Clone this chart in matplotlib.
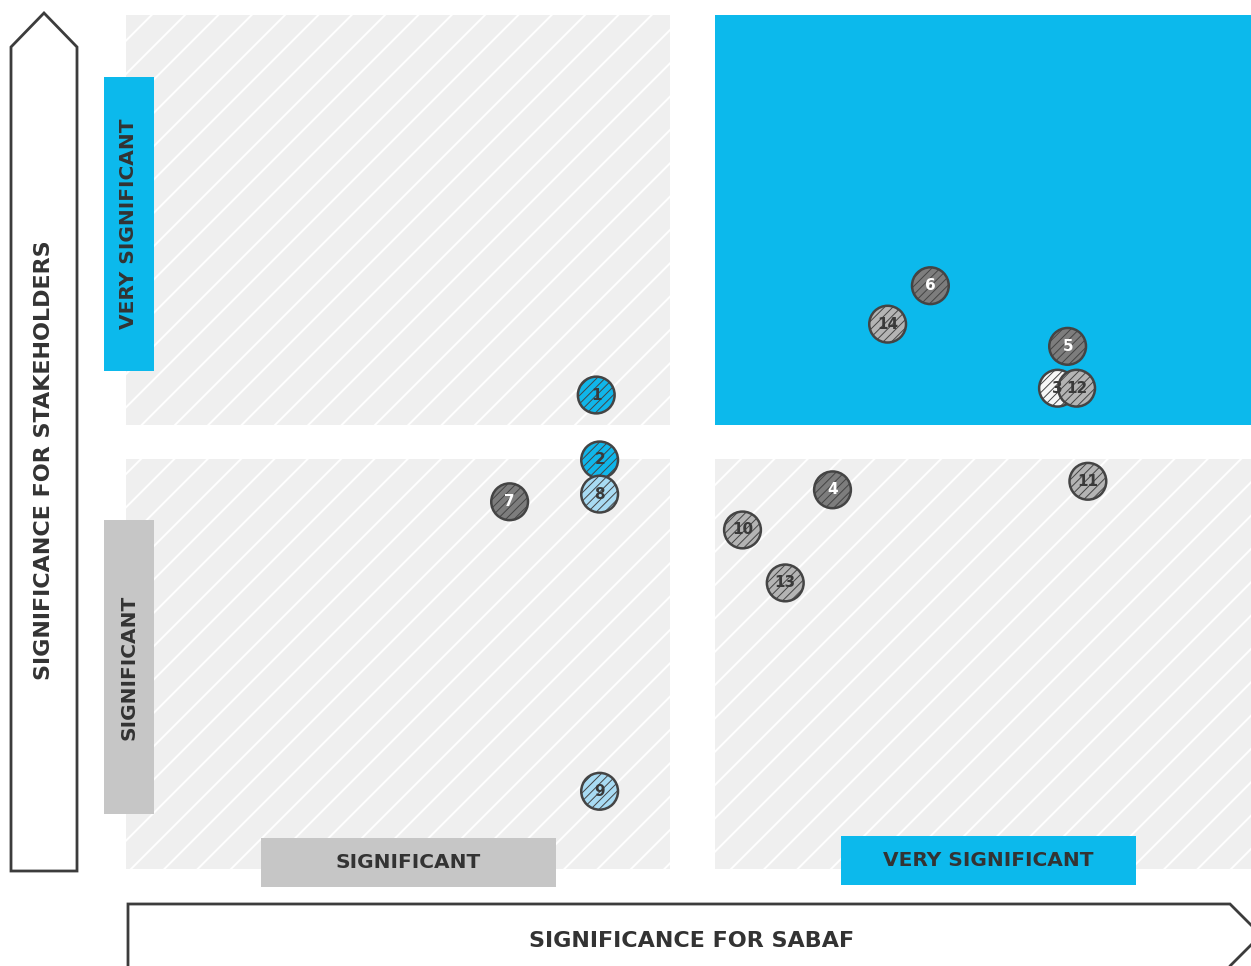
import matplotlib
matplotlib.use("Agg")
import matplotlib.pyplot as plt
from matplotlib.patches import Rectangle, Polygon

plt.rcParams['font.family'] = ['DejaVu Sans']
plt.rcParams['hatch.linewidth'] = 1.4

# Material topics: significance for Sabaf (x) and for stakeholders (y), 0-100 scale
topics = ['1', '2', '3', '4', '5', '6', '7', '8', '9', '10', '11', '12', '13', '14']
sabaf = [41.8, 42.1, 82.8, 62.8, 83.7, 71.5, 34.1, 42.1, 42.1, 54.8, 85.5, 84.5, 58.6, 67.7]
stakeholders = [55.5, 47.9, 56.3, 44.4, 61.2, 68.3, 43.0, 43.9, 9.1, 39.7, 45.4, 56.3, 33.5, 63.8]
groups = ['blue', 'blue', 'white', 'dark', 'dark', 'dark', 'dark', 'light', 'light',
          'mid', 'mid', 'mid', 'mid', 'mid']

fill = {'blue': '#10b6ea', 'light': '#a8dbf3', 'dark': '#7d7d7d', 'mid': '#b4b4b4', 'white': '#f7f7f7'}
label_col = {'blue': '#3a3a3a', 'light': '#3a3a3a', 'dark': 'white', 'mid': '#3a3a3a', 'white': '#3a3a3a'}

BLUE = '#0cb9ec'
GREY_BOX = '#c6c6c6'
PANEL = '#efefef'
INK = '#333333'

W, H = 1251, 966
fig = plt.figure(figsize=(W / 100, H / 100), dpi=100)

# Layout layer in pixel units
lay = fig.add_axes([0, 0, 1, 1])
lay.set_xlim(0, W)
lay.set_ylim(H, 0)
lay.axis('off')

# Quadrant panels
for (x0, y0, x1, y1) in [(126, 15, 670, 425), (126, 459, 670, 869), (715, 459, 1251, 869)]:
    lay.add_patch(Rectangle((x0, y0), x1 - x0, y1 - y0, facecolor=PANEL,
                            edgecolor='white', linewidth=0, hatch='/'))
lay.add_patch(Rectangle((715, 15), 1251 - 715, 425 - 15, facecolor=BLUE, linewidth=0))

# Level tags
lay.add_patch(Rectangle((104, 77), 50, 294, facecolor=BLUE, linewidth=0))
lay.text(129, 224, 'VERY SIGNIFICANT', rotation=90, ha='center', va='center',
         fontsize=14.5, fontweight='bold', color=INK)
lay.add_patch(Rectangle((104, 520), 50, 294, facecolor=GREY_BOX, linewidth=0))
lay.text(129, 667, 'SIGNIFICANT', rotation=90, ha='center', va='center',
         fontsize=14.5, fontweight='bold', color=INK)
lay.add_patch(Rectangle((261, 838), 295, 49, facecolor=GREY_BOX, linewidth=0))
lay.text(408.5, 863, 'SIGNIFICANT', ha='center', va='center',
         fontsize=14.5, fontweight='bold', color=INK)
lay.add_patch(Rectangle((841, 836), 295, 49, facecolor=BLUE, linewidth=0))
lay.text(988.5, 861, 'VERY SIGNIFICANT', ha='center', va='center',
         fontsize=14.5, fontweight='bold', color=INK)

# Axis arrows
lay.add_patch(Polygon([(11, 871), (11, 47), (44, 13), (77, 47), (77, 871)], closed=True,
                      facecolor='white', edgecolor='#3c3c3c', linewidth=2))
lay.text(44, 460, 'SIGNIFICANCE FOR STAKEHOLDERS', rotation=90, ha='center', va='center',
         fontsize=16, fontweight='bold', color=INK)
lay.add_patch(Polygon([(128, 990), (128, 904), (1230, 904), (1261, 935), (1230, 966), (1230, 990)],
                      closed=False, facecolor='white', edgecolor='#3c3c3c', linewidth=2,
                      clip_on=True))
lay.text(692, 941, 'SIGNIFICANCE FOR SABAF', ha='center', va='center',
         fontsize=16, fontweight='bold', color=INK)

# Data layer over the quadrant area
ax = fig.add_axes([126 / W, 1 - 869 / H, (1251 - 126) / W, (869 - 15) / H])
ax.set_xlim(0, 100)
ax.set_ylim(0, 100)
ax.axis('off')
ax.patch.set_alpha(0)

# thinner hatch inside the topic bubbles
plt.rcParams['hatch.linewidth'] = 0.7
for name, x, y, g in zip(topics, sabaf, stakeholders, groups):
    ax.scatter([x], [y], s=700, facecolor=fill[g], edgecolor='#444444', linewidth=1.8,
               hatch='////', zorder=3, clip_on=False)
    ax.text(x, y, name, ha='center', va='center', fontsize=11, fontweight='bold',
            color=label_col[g], zorder=4)

fig.savefig('out.png', dpi=100)
